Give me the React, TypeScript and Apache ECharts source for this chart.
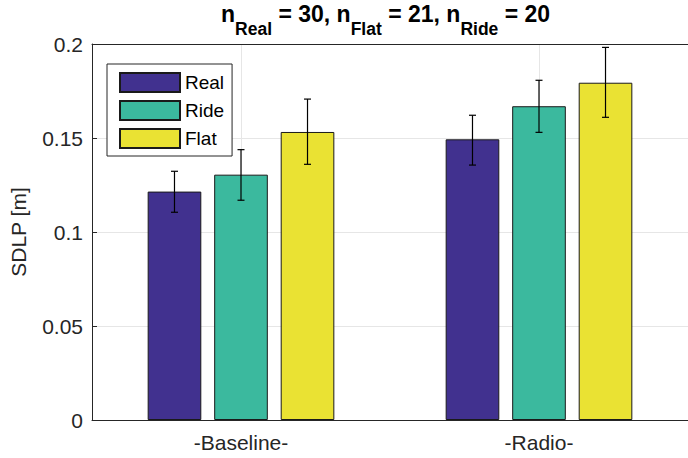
import React, { useEffect, useRef } from "react";
import * as echarts from "echarts";

const categories = ["-Baseline-", "-Radio-"];
const seriesNames = ["Real", "Ride", "Flat"];
const realValues = [0.1215, 0.1493];
const rideValues = [0.1305, 0.1669];
const flatValues = [0.1532, 0.1794];
const realErrLow = [0.1105, 0.1356];
const realErrHigh = [0.1323, 0.1621];
const rideErrLow = [0.1169, 0.153];
const rideErrHigh = [0.1438, 0.1807];
const flatErrLow = [0.136, 0.161];
const flatErrHigh = [0.1707, 0.1982];
const yTicks = { min: 0, max: 0.2, interval: 0.05 };

const COLORS = ["#41318F", "#3BB99E", "#EAE233"];
const AXIS = "#262626";
const FONT = "'Liberation Sans', Arial, Helvetica, sans-serif";
const BAR_W = 0.18;
const BAR_GAP = 0.24;

export default function App() {
  const ref = useRef<HTMLDivElement>(null);
  useEffect(() => {
    if (!ref.current) return;
    const chart = echarts.init(ref.current, null, { renderer: "svg" });
    const values = [realValues, rideValues, flatValues];
    const lows = [realErrLow, rideErrLow, flatErrLow];
    const highs = [realErrHigh, rideErrHigh, flatErrHigh];

    const barSeries = seriesNames.map((name, i) => ({
      name,
      type: "bar",
      data: values[i],
      barWidth: `${BAR_W * 100}%`,
      barGap: `${BAR_GAP * 100}%`,
      itemStyle: { color: COLORS[i], borderColor: "#1a1a1a", borderWidth: 1 },
      z: 3,
    }));

    const errSeries = seriesNames.map((name, i) => ({
      name: name + "-err",
      type: "custom",
      data: categories.map((_, c) => [c, lows[i][c], highs[i][c]]),
      z: 6,
      silent: true,
      renderItem: (params: any, api: any) => {
        const band = api.size([1, 0])[0];
        const offset = (i - 1) * band * BAR_W * (1 + BAR_GAP);
        const lo = api.coord([api.value(0), api.value(1)]);
        const hi = api.coord([api.value(0), api.value(2)]);
        const x = lo[0] + offset;
        const cap = 3.5;
        const style = { stroke: "#000", lineWidth: 1.2 };
        return {
          type: "group",
          children: [
            { type: "line", shape: { x1: x, y1: lo[1], x2: x, y2: hi[1] }, style },
            { type: "line", shape: { x1: x - cap, y1: lo[1], x2: x + cap, y2: lo[1] }, style },
            { type: "line", shape: { x1: x - cap, y1: hi[1], x2: x + cap, y2: hi[1] }, style },
          ],
        };
      },
    }));

    const gridSeries = {
      name: "xgrid",
      type: "line",
      data: [],
      z: 0,
      silent: true,
      markLine: {
        z: 0,
        silent: true,
        symbol: "none",
        label: { show: false },
        lineStyle: { color: "#e6e6e6", type: "solid", width: 1 },
        data: categories.map((c) => ({ xAxis: c })),
      },
    };

    chart.setOption({
      animation: false,
      backgroundColor: "#fff",
      title: {
        left: 221,
        top: 2,
        padding: 0,
        text:
          "{m|n}{s|Real}{m| = 30, n}{s|Flat}{m| = 21, n}{s|Ride}{m| = 20}",
        textStyle: {
          rich: {
            m: { fontSize: 23, fontWeight: "bold", fontFamily: FONT, color: "#000", lineHeight: 23, verticalAlign: "top" },
            s: { fontSize: 17.5, fontWeight: "bold", fontFamily: FONT, color: "#000", lineHeight: 18, verticalAlign: "top", padding: [18, 0, 0, 0] },
          },
        },
      },
      legend: {
        data: seriesNames,
        orient: "vertical",
        left: 107,
        top: 64,
        itemWidth: 60,
        itemHeight: 19,
        itemGap: 7,
        padding: [8, 8, 7, 12],
        backgroundColor: "#fff",
        borderColor: AXIS,
        borderWidth: 1,
        icon: "rect",
        textStyle: { fontSize: 19, fontFamily: FONT, color: "#000" },
        selectedMode: false,
      },
      grid: { left: 88, top: 44, width: 606, height: 376, containLabel: false },
      xAxis: [
        {
          type: "category",
          data: categories,
          position: "bottom",
          axisLine: { lineStyle: { color: AXIS, width: 1 } },
          axisTick: { inside: true, alignWithLabel: true, length: 5, lineStyle: { color: AXIS } },
          axisLabel: { fontSize: 21, fontFamily: FONT, color: AXIS, margin: 12 },
          splitLine: { show: false },
        },
        {
          type: "category",
          data: categories,
          position: "top",
          axisLine: { lineStyle: { color: AXIS, width: 1 } },
          axisTick: { inside: true, alignWithLabel: true, length: 5, lineStyle: { color: AXIS } },
          axisLabel: { show: false },
          splitLine: { show: false },
        },
      ],
      yAxis: {
        type: "value",
        min: yTicks.min,
        max: yTicks.max,
        interval: yTicks.interval,
        name: "SDLP [m]",
        nameLocation: "middle",
        nameGap: 63,
        nameTextStyle: { fontSize: 21, fontFamily: FONT, color: AXIS },
        axisLine: { show: true, lineStyle: { color: AXIS, width: 1 } },
        axisTick: { show: true, inside: true, length: 5, lineStyle: { color: AXIS } },
        axisLabel: { fontSize: 21, fontFamily: FONT, color: AXIS, margin: 9 },
        splitLine: { show: true, lineStyle: { color: "#e6e6e6", width: 1 } },
      },
      series: [gridSeries, ...barSeries, ...errSeries],
    });
    return () => chart.dispose();
  }, []);
  return <div ref={ref} style={{ width: 688, height: 458, position: "absolute", left: 0, top: 0 }} />;
}
